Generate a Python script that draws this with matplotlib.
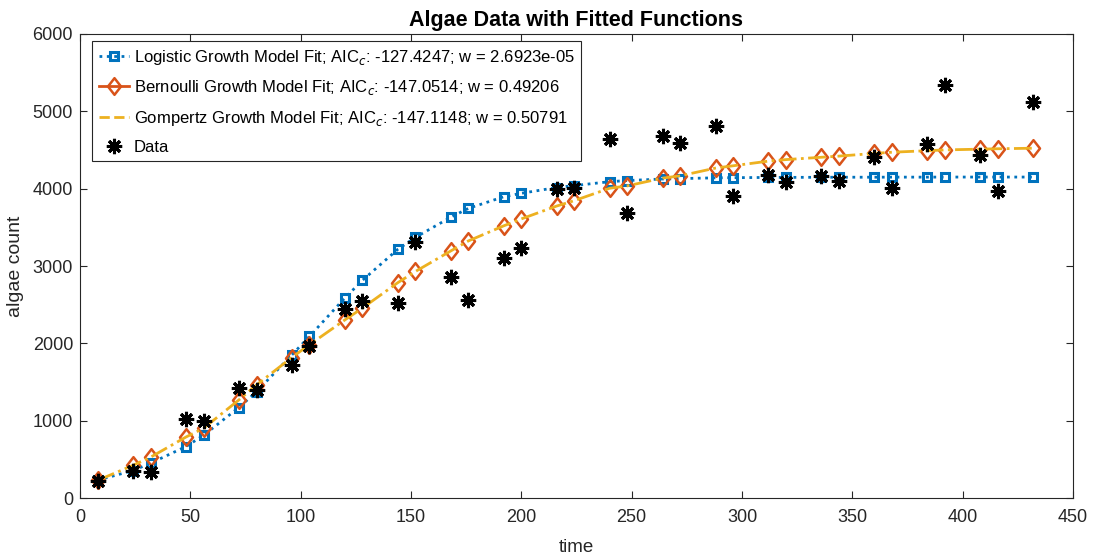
import numpy as np
import matplotlib
matplotlib.use('Agg')
import matplotlib.pyplot as plt
from matplotlib.lines import Line2D
from matplotlib.path import Path

plt.rcParams['font.family'] = ['Liberation Sans', 'DejaVu Sans']

# time points and observed algae counts
t = [8, 24, 32, 48, 56, 72, 80, 96, 104, 120, 128, 144, 152, 168, 176, 192, 200,
     216, 224, 240, 248, 264, 272, 288, 296, 312, 320, 336, 344, 360, 368, 384,
     392, 408, 416, 432]
data = [225, 345, 330, 1025, 990, 1420, 1400, 1720, 1965, 2450, 2545, 2525, 3315,
        2860, 2560, 3100, 3230, 4000, 4015, 4645, 3680, 4675, 4595, 4810, 3900,
        4180, 4090, 4170, 4105, 4405, 4005, 4575, 5345, 4430, 3970, 5125]

# fitted model values at the same time points
logistic = [230, 355, 450, 665, 810, 1170, 1375, 1850, 2090, 2585, 2815, 3215, 3370,
            3630, 3745, 3895, 3940, 4015, 4040, 4090, 4105, 4125, 4130, 4140, 4142,
            4145, 4146, 4147, 4148, 4148, 4149, 4149, 4150, 4150, 4150, 4150]
bernoulli = [230, 425, 530, 790, 900, 1265, 1460, 1815, 1980, 2300, 2455, 2785, 2930,
             3195, 3325, 3520, 3610, 3775, 3845, 4005, 4035, 4135, 4165, 4265, 4295,
             4355, 4375, 4405, 4420, 4455, 4470, 4490, 4500, 4510, 4515, 4522]
gompertz = [228, 422, 528, 788, 902, 1268, 1462, 1818, 1982, 2302, 2456, 2784, 2929,
            3194, 3324, 3519, 3609, 3775, 3845, 4005, 4036, 4136, 4166, 4266, 4296,
            4356, 4376, 4406, 4421, 4456, 4471, 4491, 4501, 4511, 4516, 4523]

labels = ['Logistic Growth Model Fit; AIC$_c$: -127.4247; w = 2.6923e-05',
          'Bernoulli Growth Model Fit; AIC$_c$: -147.0514; w = 0.49206',
          'Gompertz Growth Model Fit; AIC$_c$: -147.1148; w = 0.50791',
          'Data']

blue, orange, yellow = '#0072BD', '#D95319', '#EDB120'

# matlab style diamond, a bit taller than wide
diamond = Path([(0, 1), (0.78, 0), (0, -1), (-0.78, 0), (0, 1)],
               [Path.MOVETO, Path.LINETO, Path.LINETO, Path.LINETO, Path.CLOSEPOLY])
asterisk = (8, 2, 0)

fig = plt.figure(figsize=(10.94, 5.59), dpi=100)
ax = fig.add_axes([0.0731, 0.1091, 0.9077, 0.8301])

ax.plot(t, logistic, ':', color=blue, lw=2, marker='s', ms=6, mfc='none', mew=2.2)
ax.plot(t, bernoulli, linestyle='none', color=orange, marker=diamond, ms=12, mfc='none', mew=1.8)
ax.plot(t, gompertz, '-.', color=yellow, lw=2)
ax.plot(t, data, linestyle='none', color='black', marker=asterisk, ms=11, mew=2.2)

handles = [Line2D([], [], ls=':', color=blue, lw=2, marker='s', ms=6, mfc='none', mew=2.2),
           Line2D([], [], ls='-', color=orange, lw=2, marker=diamond, ms=12, mfc='none', mew=1.8),
           Line2D([], [], ls='--', color=yellow, lw=2),
           Line2D([], [], ls='none', color='black', marker=asterisk, ms=11, mew=2.2)]
leg = ax.legend(handles, labels, loc='upper left', bbox_to_anchor=(0.012, 0.985),
                borderaxespad=0, fontsize=12, fancybox=False, edgecolor='#262626',
                framealpha=1, handlelength=1.8, labelspacing=0.7, borderpad=0.4,
                handletextpad=0.3)
leg.get_frame().set_linewidth(0.8)

ax.set_xlim(0, 450)
ax.set_ylim(0, 6000)
ax.set_xticks(np.arange(0, 451, 50))
ax.set_yticks(np.arange(0, 6001, 1000))
ax.tick_params(direction='in', length=5, width=0.8, labelsize=13, color='#262626',
               labelcolor='#262626', top=True, right=True)
ax.tick_params(axis='x', pad=8)
ax.tick_params(axis='y', pad=5)
for s in ax.spines.values():
    s.set_linewidth(0.8)
    s.set_color('#262626')

ax.set_xlabel('time', fontsize=13.5, color='#262626', labelpad=9)
ax.set_ylabel('algae count', fontsize=14, color='#262626', labelpad=6)
ax.set_title('Algae Data with Fitted Functions', fontsize=15.5, fontweight='bold', pad=6)

fig.savefig('out.png', dpi=100)
